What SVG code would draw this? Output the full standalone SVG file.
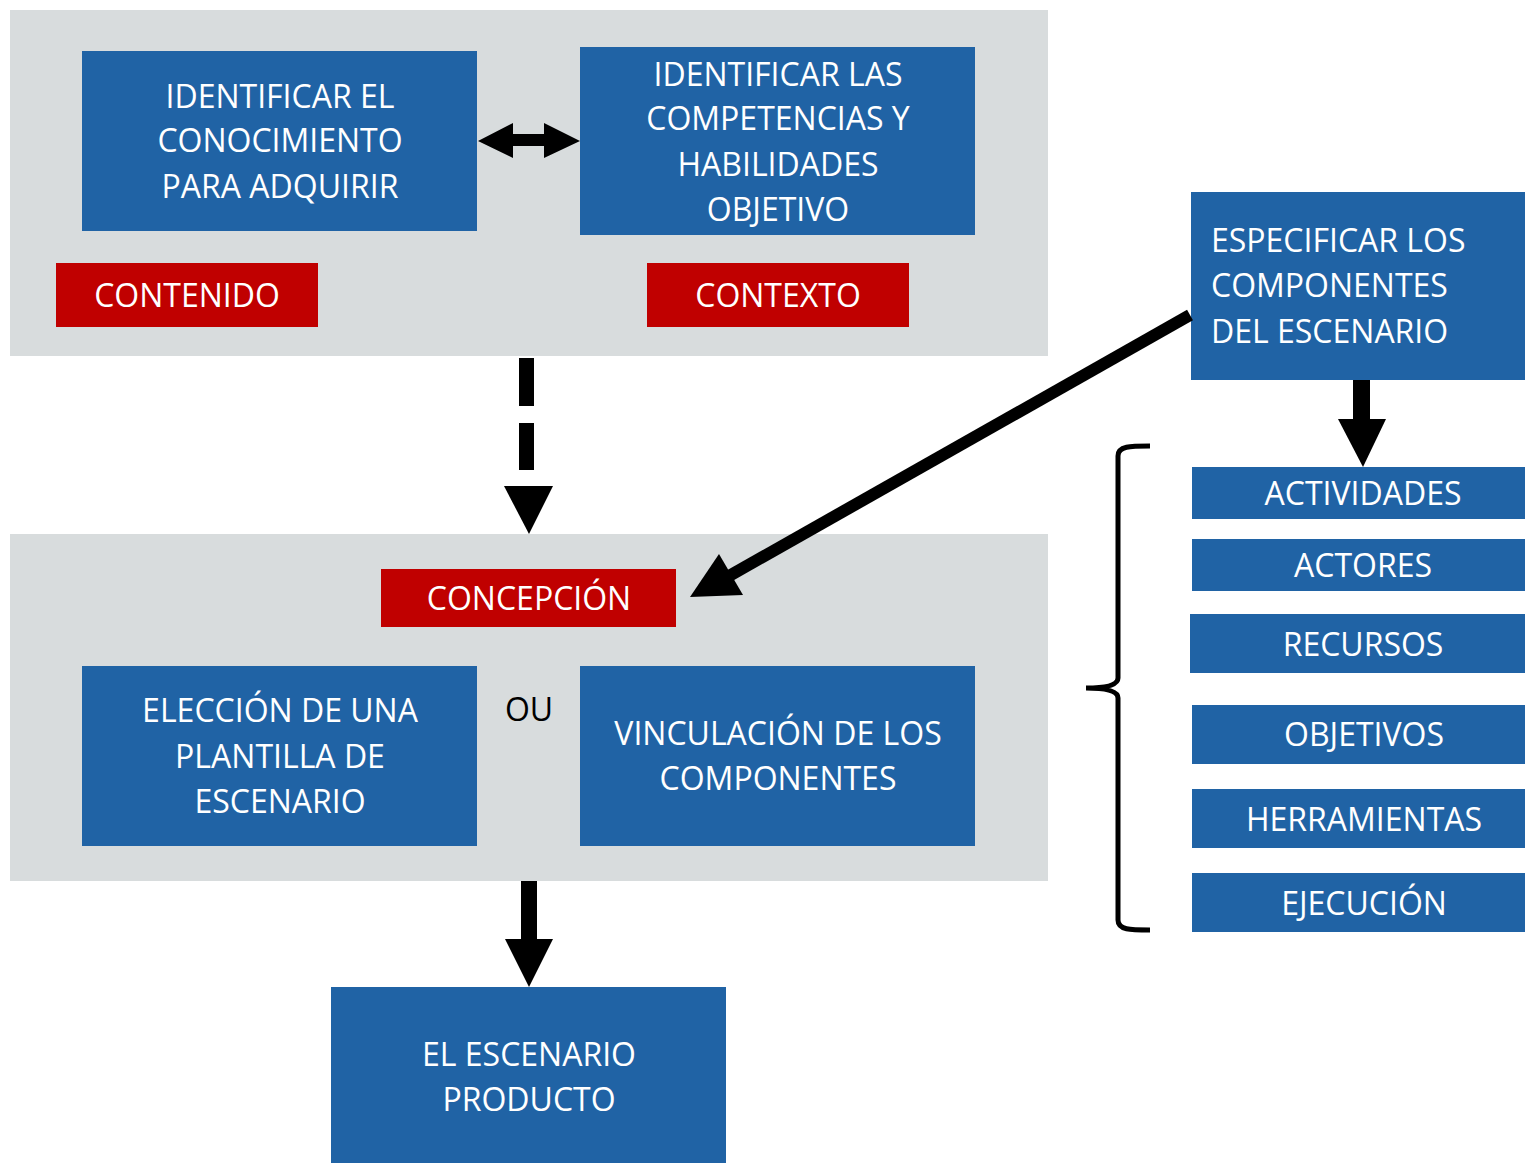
<svg xmlns="http://www.w3.org/2000/svg" width="1525" height="1163" viewBox="0 0 1525 1163">
<style>
.panel{fill:#D8DCDD}
.blue{fill:#2063A5}
.red{fill:#C00000}
text{font-family:"Open Sans","Liberation Sans",sans-serif;font-size:32px;fill:#fff;text-anchor:middle}
.dark{fill:#000}
.left{text-anchor:start}
</style>
<rect width="1525" height="1163" fill="#fff"/>
<g id="panel-top"><rect class="panel" x="10" y="10" width="1038" height="346"/></g>
<g id="panel-mid"><rect class="panel" x="10" y="534" width="1038" height="347"/></g>
<g id="n-conocimiento"><rect class="blue" x="82" y="51" width="395" height="180"/>
<text x="280" y="108">IDENTIFICAR EL</text><text x="280" y="152">CONOCIMIENTO</text><text x="280" y="198">PARA ADQUIRIR</text></g>
<g id="n-competencias"><rect class="blue" x="580" y="47" width="395" height="188"/>
<text x="778" y="86">IDENTIFICAR LAS</text><text x="778" y="130">COMPETENCIAS Y</text><text x="778" y="176">HABILIDADES</text><text x="778" y="221">OBJETIVO</text></g>
<g id="n-contenido"><rect class="red" x="56" y="263" width="262" height="64"/><text x="187" y="307">CONTENIDO</text></g>
<g id="n-contexto"><rect class="red" x="647" y="263" width="262" height="64"/><text x="778" y="307">CONTEXTO</text></g>
<g id="n-especificar"><rect class="blue" x="1191" y="192" width="334" height="188"/>
<text class="left" x="1211" y="252">ESPECIFICAR LOS</text><text class="left" x="1211" y="297">COMPONENTES</text><text class="left" x="1211" y="343">DEL ESCENARIO</text></g>
<g id="n-actividades"><rect class="blue" x="1192" y="467" width="333" height="52"/><text x="1363" y="505">ACTIVIDADES</text></g>
<g id="n-actores"><rect class="blue" x="1192" y="539" width="333" height="52"/><text x="1363" y="577">ACTORES</text></g>
<g id="n-recursos"><rect class="blue" x="1190" y="614" width="335" height="59"/><text x="1363" y="656">RECURSOS</text></g>
<g id="n-objetivos"><rect class="blue" x="1192" y="705" width="333" height="59"/><text x="1364" y="746">OBJETIVOS</text></g>
<g id="n-herramientas"><rect class="blue" x="1192" y="789" width="333" height="59"/><text x="1364" y="831">HERRAMIENTAS</text></g>
<g id="n-ejecucion"><rect class="blue" x="1192" y="873" width="333" height="59"/><text x="1364" y="915">EJECUCIÓN</text></g>
<g id="n-concepcion"><rect class="red" x="381" y="569" width="295" height="58"/><text x="529" y="610">CONCEPCIÓN</text></g>
<g id="n-eleccion"><rect class="blue" x="82" y="666" width="395" height="180"/>
<text x="280" y="722">ELECCIÓN DE UNA</text><text x="280" y="768">PLANTILLA DE</text><text x="280" y="813">ESCENARIO</text></g>
<g id="n-ou"><text class="dark" x="529" y="721">OU</text></g>
<g id="n-vinculacion"><rect class="blue" x="580" y="666" width="395" height="180"/>
<text x="778" y="745">VINCULACIÓN DE LOS</text><text x="778" y="790">COMPONENTES</text></g>
<g id="n-producto"><rect class="blue" x="331" y="987" width="395" height="176"/>
<text x="529" y="1066">EL ESCENARIO</text><text x="529" y="1111">PRODUCTO</text></g>
<g id="connectors" fill="#000">
<polygon points="478,141 513,123 513,134 544,134 544,123 580,141 544,158 544,146 513,146 513,158"/>
<rect x="519" y="358" width="15" height="48"/>
<rect x="519" y="423" width="15" height="47"/>
<polygon points="504,486 553,486 529,534"/>
<line x1="1190" y1="315" x2="722" y2="580" stroke="#000" stroke-width="12"/>
<polygon points="690,597 719,554 743,595"/>
<rect x="1353" y="380" width="17" height="40"/>
<polygon points="1338,419 1386,419 1363,467"/>
<rect x="521" y="881" width="16" height="59"/>
<polygon points="505,939 553,939 529,987"/>
<path d="M1150,446 C1130,446 1118,446 1118,456 L1118,678 Q1118,688 1086,688 Q1118,688 1118,698 L1118,920 C1118,930 1130,930 1150,930" fill="none" stroke="#000" stroke-width="5"/>
</g>
</svg>
